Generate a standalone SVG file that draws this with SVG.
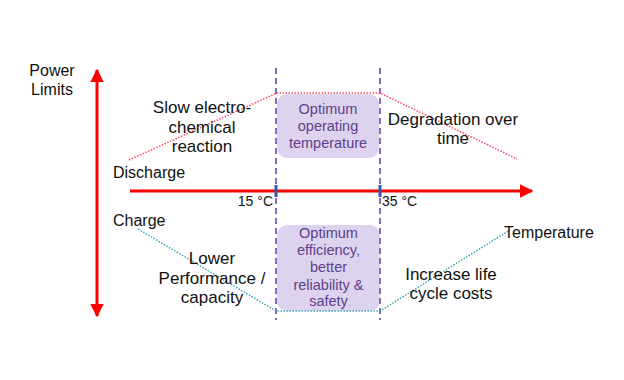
<svg xmlns="http://www.w3.org/2000/svg" width="624" height="380" viewBox="0 0 624 380">
<style>
.t{font-family:"Liberation Sans",Arial,sans-serif;fill:#111;text-anchor:middle}
.l{font-size:17px}
.s{font-size:16px}
.b{font-family:"Liberation Sans",Arial,sans-serif;font-size:14.5px;fill:#5e3f8c;text-anchor:middle}
.deg{font-family:"Liberation Sans",Arial,sans-serif;font-size:14px;fill:#111}
.axis{stroke:#ff0000;stroke-width:3;fill:none}
.dash{stroke:#8a68bf;stroke-width:2;stroke-dasharray:6 4;fill:none}
.tick{stroke:#3a56a8;stroke-width:3}
.red{stroke:#ff4a60;stroke-width:1.5;stroke-dasharray:1.5 1.5;fill:none}
.teal{stroke:#3fa6b0;stroke-width:1.5;stroke-dasharray:1.5 1.5;fill:none}
.box{fill:#ddd3ee}
</style>
<defs>
<marker id="ah" viewBox="0 0 10 10" refX="9" refY="5" markerWidth="4.5" markerHeight="4.5" orient="auto-start-reverse" markerUnits="strokeWidth">
<path d="M0,0 L10,5 L0,10 z" fill="#ff0000"/>
</marker>
</defs>
<g id="boxes">
<g id="box-operating">
<rect class="box" x="277" y="94" width="102" height="64" rx="10"/>
<text class="b" x="328" y="114">Optimum</text>
<text class="b" x="328" y="131">operating</text>
<text class="b" x="328" y="148">temperature</text>
</g>
<g id="box-efficiency">
<rect class="box" x="277" y="225" width="103" height="86" rx="10"/>
<text class="b" x="328.5" y="238">Optimum</text>
<text class="b" x="328.5" y="255">efficiency,</text>
<text class="b" x="328.5" y="272">better</text>
<text class="b" x="328.5" y="290">reliability &amp;</text>
<text class="b" x="328.5" y="306">safety</text>
</g>
</g>
<g id="connectors">
<line class="dash" x1="276" y1="68" x2="276" y2="320"/>
<line class="dash" x1="380" y1="68" x2="380" y2="320"/>
<line class="axis" x1="97" y1="316" x2="97" y2="70" marker-start="url(#ah)" marker-end="url(#ah)"/>
<line class="axis" x1="130" y1="191" x2="532" y2="191" marker-end="url(#ah)"/>
<line class="tick" x1="276" y1="185" x2="276" y2="197"/>
<line class="tick" x1="380" y1="185" x2="380" y2="197"/>
<polyline class="red" points="129,160 277,93 380,93 517,159"/>
<polyline class="teal" points="138,229 276,311 380,311 510,230"/>
</g>
<g id="labels">
<g id="power-limits">
<text class="t s" x="52" y="76">Power</text>
<text class="t s" x="52" y="95">Limits</text>
</g>
<g id="slow">
<text class="t l" x="202" y="113">Slow electro-</text>
<text class="t l" x="202" y="133">chemical</text>
<text class="t l" x="202" y="152">reaction</text>
</g>
<g id="discharge"><text class="t s" x="113" y="178" style="text-anchor:start">Discharge</text></g>
<g id="charge"><text class="t s" x="113" y="226" style="text-anchor:start">Charge</text></g>
<g id="degradation">
<text class="t l" x="453" y="125">Degradation over</text>
<text class="t l" x="453" y="144">time</text>
</g>
<g id="lower">
<text class="t l" x="212" y="264">Lower</text>
<text class="t l" x="212" y="284">Performance /</text>
<text class="t l" x="212" y="303">capacity</text>
</g>
<g id="increase">
<text class="t l" x="451" y="280">Increase life</text>
<text class="t l" x="451" y="299">cycle costs</text>
</g>
<g id="temperature"><text class="t s" x="504" y="238" style="text-anchor:start">Temperature</text></g>
<g id="t15"><text class="deg" x="273" y="206" text-anchor="end">15 °C</text></g>
<g id="t35"><text class="deg" x="382" y="206">35 °C</text></g>
</g>
</svg>
